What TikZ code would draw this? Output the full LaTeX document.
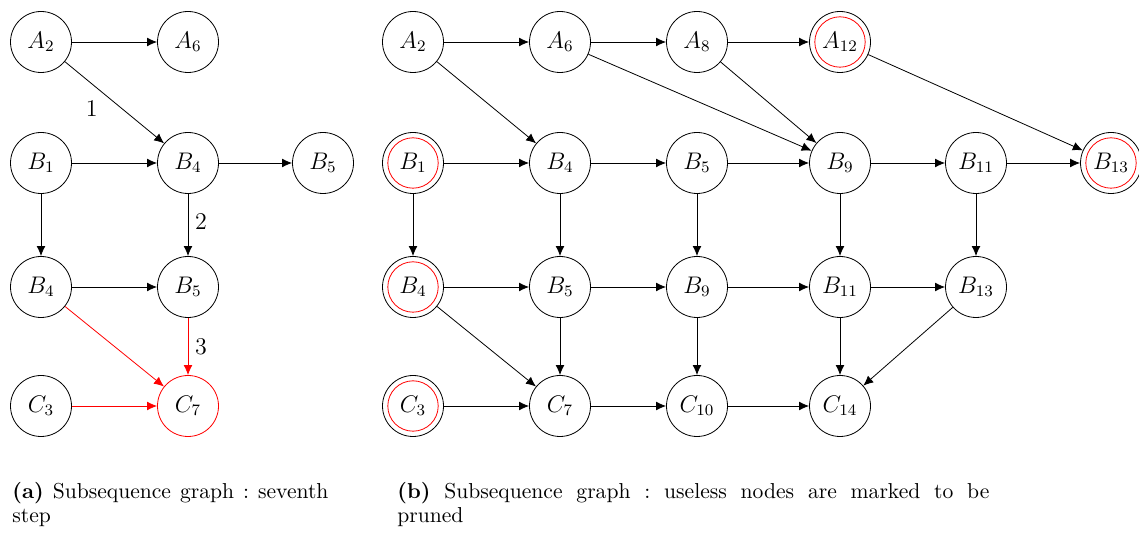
\documentclass[tikz,border=0pt]{standalone}
\usepackage{tikz}
\usetikzlibrary{arrows.meta}
\colorlet{prunered}{red}
\frenchspacing

\begin{document}
\begin{tikzpicture}[x=0.5pt,y=-0.5pt,font=\fontsize{12}{14}\selectfont,
		state/.style={draw,circle,minimum size=30.5pt,inner sep=0pt},
		pruned/.style={state,path picture={\draw[prunered] (path picture bounding box.center) circle (12.6pt);}},
		link/.style={-{Latex[length=5pt,width=4.4pt]}},
		caption/.style={anchor=north west,inner sep=0pt,align=justify,font=\fontsize{10.8}{12}\selectfont}]
		\useasboundingbox (0,0) rectangle (1139,533);
		% (a)
		\node[state] (la2) at (41,42) {$A_2$};
		\node[state] (la6) at (188,42) {$A_6$};
		\node[state] (lb1) at (41,163) {$B_1$};
		\node[state] (lb4) at (188,163) {$B_4$};
		\node[state] (lb5) at (323,163) {$B_5$};
		\node[state] (lb4d) at (41,287) {$B_4$};
		\node[state] (lb5d) at (188,287) {$B_5$};
		\node[state] (lc3) at (41,406) {$C_3$};
		\node[state,draw=prunered] (lc7) at (188,406) {$C_7$};
		\draw[link] (la2) -- (la6);
		\draw[link] (la2) -- node[pos=0.4,below left] (l1) {$1$} (lb4);
		\draw[link] (lb1) -- (lb4);
		\draw[link] (lb4) -- (lb5);
		\draw[link] (lb1) -- (lb4d);
		\draw[link] (lb4) -- node[pos=0.45,right] (l2) {$2$} (lb5d);
		\draw[link] (lb4d) -- (lb5d);
		\draw[link,prunered] (lb4d) -- (lc7);
		\draw[link,prunered] (lb5d) -- node[midway,right,text=black] (l3) {$3$} (lc7);
		\draw[link,prunered] (lc3) -- (lc7);
		% (b)
		\node[state] (ra2) at (413,42) {$A_2$};
		\node[state] (ra6) at (560,42) {$A_6$};
		\node[state] (ra8) at (697,42) {$A_8$};
		\node[pruned] (ra12) at (840,42) {$A_{12}$};
		\node[pruned] (rb1) at (413,163) {$B_1$};
		\node[state] (rb4) at (560,163) {$B_4$};
		\node[state] (rb5) at (697,163) {$B_5$};
		\node[state] (rb9) at (840,163) {$B_9$};
		\node[state] (rb11) at (976,163) {$B_{11}$};
		\node[pruned] (rb13) at (1111,163) {$B_{13}$};
		\node[pruned] (rb4d) at (413,287) {$B_4$};
		\node[state] (rb5d) at (560,287) {$B_5$};
		\node[state] (rb9d) at (697,287) {$B_9$};
		\node[state] (rb11d) at (840,287) {$B_{11}$};
		\node[state] (rb13d) at (976,287) {$B_{13}$};
		\node[pruned] (rc3) at (413,406) {$C_3$};
		\node[state] (rc7) at (560,406) {$C_7$};
		\node[state] (rc10) at (697,406) {$C_{10}$};
		\node[state] (rc14) at (840,406) {$C_{14}$};
		\draw[link] (ra2) -- (ra6);
		\draw[link] (ra6) -- (ra8);
		\draw[link] (ra8) -- (ra12);
		\draw[link] (ra2) -- (rb4);
		\draw[link] (ra6) -- (rb9);
		\draw[link] (ra8) -- (rb9);
		\draw[link] (ra12) -- (rb13);
		\draw[link] (rb1) -- (rb4);
		\draw[link] (rb4) -- (rb5);
		\draw[link] (rb5) -- (rb9);
		\draw[link] (rb9) -- (rb11);
		\draw[link] (rb11) -- (rb13);
		\draw[link] (rb1) -- (rb4d);
		\draw[link] (rb4) -- (rb5d);
		\draw[link] (rb5) -- (rb9d);
		\draw[link] (rb9) -- (rb11d);
		\draw[link] (rb11) -- (rb13d);
		\draw[link] (rb4d) -- (rb5d);
		\draw[link] (rb5d) -- (rb9d);
		\draw[link] (rb9d) -- (rb11d);
		\draw[link] (rb11d) -- (rb13d);
		\draw[link] (rb4d) -- (rc7);
		\draw[link] (rb5d) -- (rc7);
		\draw[link] (rb9d) -- (rc10);
		\draw[link] (rb11d) -- (rc14);
		\draw[link] (rb13d) -- (rc14);
		\draw[link] (rc3) -- (rc7);
		\draw[link] (rc7) -- (rc10);
		\draw[link] (rc10) -- (rc14);
		% captions
		\node[caption,text width=158pt] (capa) at (12,482) {\textbf{(a)} Subsequence graph : seventh step};
		\node[caption,text width=296pt] (capb) at (397,482) {\textbf{(b)} Subsequence graph : useless nodes are marked to be\linebreak pruned};
\end{tikzpicture}
\end{document}
